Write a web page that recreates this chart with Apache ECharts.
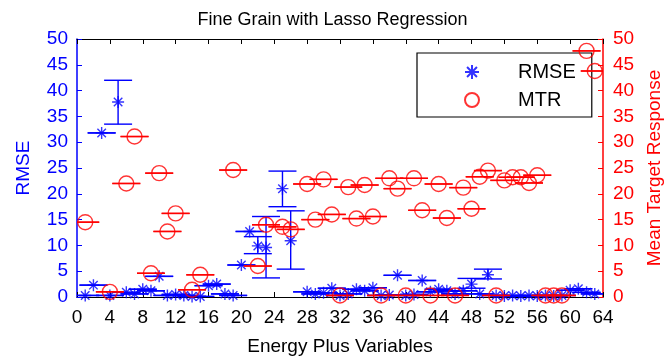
<!DOCTYPE html>
<html>
<head>
<meta charset="utf-8">
<script src="https://cdn.jsdelivr.net/npm/echarts@6/dist/echarts.min.js"></script>
<style>
  html, body { margin: 0; padding: 0; background: #fff; }
  #chart { width: 665px; height: 362px; }
</style>
</head>
<body>
<div id="chart"></div>
<script>
const blue = "#0000ff";
const red = "#ff0000";
const fontFamily = "'Liberation Sans', Arial, sans-serif";

// variable index 1..63
const variables = Array.from({ length: 63 }, (_, i) => i + 1);

const rmse = [
  0.3, 2.3, 31.8, 0.3, 37.8, 0.9, 0.6, 1.5, 1.2, 4.0,
  0.3, 0.5, 0.3, 0.1, 0.1, 2.2, 2.5, 0.6, 0.3, 6.2,
  12.7, 9.9, 9.6, null, 21.0, 10.9, null, 1.0, 0.6, 0.8,
  1.7, 0.3, 0.6, 1.5, 1.2, 1.8, 0.3, 0.4, 4.2, 0.3,
  0.5, 3.2, 1.0, 1.5, 1.2, 0.6, 1.2, 2.5, 0.6, 4.3,
  0.3, 0.2, 0.3, 0.2, 0.3, 0.2, 0.3, 0.2, 0.3, 1.3,
  1.6, 0.9, 0.6,
];

const mtr = [
  14.5, null, null, 1.0, null, 22.0, 31.1, null, 4.6, 24.0,
  12.7, 16.2, null, 1.4, 4.3, null, null, null, 24.6, null,
  null, 6.0, 14.0, null, 13.6, 13.1, null, 21.9, 15.0, 22.8,
  16.0, 0.3, 21.3, 15.2, 21.7, 15.6, 0.3, 23.0, 21.0, 0.3,
  23.0, 16.8, 0.3, 21.9, 15.3, 0.3, 21.2, 17.1, 23.3, 24.5,
  0.3, 22.6, 23.2, 23.2, 22.1, 23.6, 0.3, 0.3, 0.3, null,
  null, 47.7, 43.8,
];

// RMSE entries with a visible spread
const errVars = [5, 22, 23, 25, 26, 48, 50];
const errLow = [33.5, 8.4, 3.7, 17.5, 5.4, 1.7, 3.5];
const errHigh = [42.0, 11.7, 15.6, 24.4, 16.7, 3.6, 5.4];

const xTicks = { min: 0, max: 64, interval: 4 };
const yTicks = { min: 0, max: 50, interval: 5 };

const starPath = "path://M0,-10L0,10M-10,0L10,0M-7.07,-7.07L7.07,7.07M-7.07,7.07L7.07,-7.07";

function rmseBars() {
  const out = [];
  variables.forEach((v, i) => {
    if (rmse[i] == null) return;
    const k = errVars.indexOf(v);
    const lo = k >= 0 ? errLow[k] : rmse[i];
    const hi = k >= 0 ? errHigh[k] : rmse[i];
    out.push([v, lo, hi]);
  });
  return out;
}

function mtrBars() {
  const out = [];
  variables.forEach((v, i) => {
    if (mtr[i] == null) return;
    out.push([v, mtr[i], mtr[i]]);
  });
  return out;
}

function points(values) {
  const out = [];
  variables.forEach((v, i) => {
    if (values[i] != null) out.push([v, values[i]]);
  });
  return out;
}

function errorBarRenderer(color) {
  return function (params, api) {
    const x = api.value(0);
    const lo = api.coord([x, api.value(1)]);
    const hi = api.coord([x, api.value(2)]);
    const hw = 14;
    const style = { stroke: color, lineWidth: 1.4 };
    return {
      type: "group",
      children: [
        { type: "line", shape: { x1: lo[0], y1: lo[1], x2: hi[0], y2: hi[1] }, style },
        { type: "line", shape: { x1: lo[0] - hw, y1: lo[1], x2: lo[0] + hw, y2: lo[1] }, style },
        { type: "line", shape: { x1: hi[0] - hw, y1: hi[1], x2: hi[0] + hw, y2: hi[1] }, style },
      ],
    };
  };
}

const chart = echarts.init(document.getElementById("chart"), null, { renderer: "canvas" });

chart.setOption({
  animation: false,
  backgroundColor: "#fff",
  textStyle: { fontFamily },
  title: {
    text: "Fine Grain with Lasso Regression",
    left: "center",
    top: 6,
    textStyle: { fontSize: 18, fontWeight: "normal", color: "#000", fontFamily },
  },
  grid: { left: 77, right: 62, top: 39, bottom: 65, outerBoundsMode: "none" },
  legend: {
    orient: "vertical",
    left: 417,
    top: 53,
    padding: [9, 16, 7, 47],
    itemWidth: 82,
    itemHeight: 14,
    itemGap: 8,
    backgroundColor: "#fff",
    borderColor: "#000",
    borderWidth: 1.2,
    borderRadius: 0,
    z: 1,
    textStyle: { fontSize: 20, color: "#000", fontFamily },
    data: ["RMSE", "MTR"],
  },
  xAxis: [
    {
      type: "value",
      position: "bottom",
      ...xTicks,
      name: "Energy Plus Variables",
      nameLocation: "middle",
      nameGap: 40,
      nameTextStyle: { fontSize: 19, color: "#000", fontFamily },
      axisLine: { onZero: false, lineStyle: { color: "#000", width: 1.2 } },
      axisTick: { inside: true, length: 5, lineStyle: { color: "#000" } },
      axisLabel: { fontSize: 19, color: "#000", margin: 11, fontFamily },
      splitLine: { show: false },
    },
    {
      type: "value",
      position: "top",
      ...xTicks,
      axisLine: { onZero: false, lineStyle: { color: "#000", width: 1.2 } },
      axisTick: { inside: true, length: 5, lineStyle: { color: "#000" } },
      axisLabel: { show: false },
      splitLine: { show: false },
    },
  ],
  yAxis: [
    {
      type: "value",
      position: "left",
      ...yTicks,
      name: "RMSE",
      nameLocation: "middle",
      nameGap: 44,
      nameTextStyle: { fontSize: 19, color: blue, fontFamily },
      axisLine: { show: true, onZero: false, lineStyle: { color: blue, width: 1.5 } },
      axisTick: { show: true, inside: true, length: 5, lineStyle: { color: blue } },
      axisLabel: { fontSize: 19, color: blue, margin: 9, fontFamily },
      splitLine: { show: false },
    },
    {
      type: "value",
      position: "right",
      ...yTicks,
      name: "Mean Target Response",
      nameLocation: "middle",
      nameGap: 42,
      nameTextStyle: { fontSize: 19, color: red, fontFamily },
      axisLine: { show: true, onZero: false, lineStyle: { color: red, width: 1.5 } },
      axisTick: { show: true, inside: true, length: 5, lineStyle: { color: red } },
      axisLabel: { fontSize: 19, color: red, margin: 10, fontFamily },
      splitLine: { show: false },
    },
  ],
  series: [
    {
      name: "RMSE bars",
      type: "custom",
      xAxisIndex: 0,
      yAxisIndex: 0,
      clip: true,
      z: 3,
      renderItem: errorBarRenderer(blue),
      encode: { x: 0, y: [1, 2] },
      data: rmseBars(),
    },
    {
      name: "RMSE",
      type: "scatter",
      xAxisIndex: 0,
      yAxisIndex: 0,
      z: 4,
      symbol: starPath,
      symbolSize: 12,
      itemStyle: { color: "rgba(0,0,0,0)", borderColor: blue, borderWidth: 1.4 },
      data: points(rmse),
    },
    {
      name: "MTR bars",
      type: "custom",
      xAxisIndex: 0,
      yAxisIndex: 1,
      clip: true,
      z: 5,
      renderItem: errorBarRenderer(red),
      encode: { x: 0, y: [1, 2] },
      data: mtrBars(),
    },
    {
      name: "MTR",
      type: "scatter",
      xAxisIndex: 0,
      yAxisIndex: 1,
      z: 6,
      symbol: "circle",
      symbolSize: 15,
      itemStyle: { color: "rgba(0,0,0,0)", borderColor: red, borderWidth: 1.4 },
      data: points(mtr),
    },
  ],
});
</script>
</body>
</html>
